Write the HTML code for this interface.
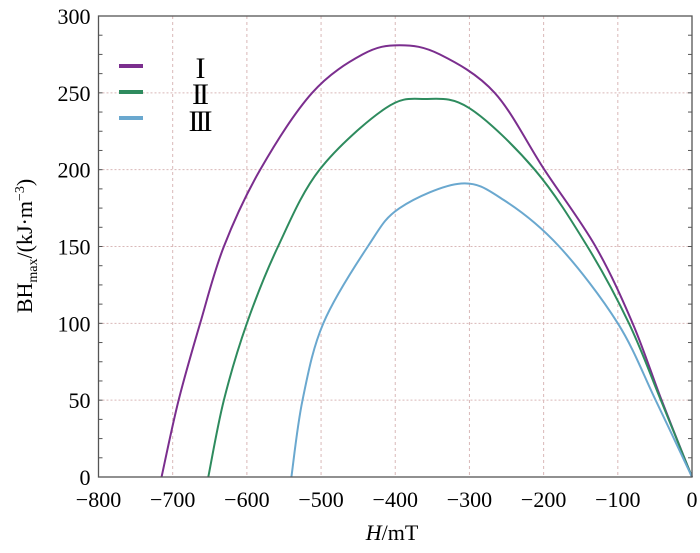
<!DOCTYPE html>
<html><head><meta charset="utf-8"><style>
html,body{margin:0;padding:0;background:#fff;}
svg{display:block;font-family:"Liberation Serif",serif;}
</style></head><body>
<svg id="chart" width="700" height="553" viewBox="0 0 700 553">
<g id="grid"></g>
<g id="curves"></g>
<g id="axes"></g>
<g id="legend">
  <line x1="119" y1="66" x2="143" y2="66" stroke="#7b2e8e" stroke-width="4"/>
  <line x1="119" y1="92" x2="143" y2="92" stroke="#2e8b5e" stroke-width="4"/>
  <line x1="119" y1="118" x2="143" y2="118" stroke="#6aa8cf" stroke-width="4"/>
  <text x="199" y="78" font-size="30" text-anchor="middle" letter-spacing="-3">I</text>
  <text x="199" y="104" font-size="30" text-anchor="middle" letter-spacing="-3">II</text>
  <text x="199" y="131" font-size="30" text-anchor="middle" letter-spacing="-3">III</text>
</g>
<text x="392" y="540" font-size="22" text-anchor="middle"><tspan font-style="italic">H</tspan>/mT</text>
<text transform="translate(32,246) rotate(-90)" font-size="22" text-anchor="middle">BH<tspan font-size="14" dy="5">max</tspan><tspan dy="-5">/(kJ·m</tspan><tspan font-size="14" dy="-8">−3</tspan><tspan dy="8">)</tspan></text>
</svg>
<script>
const xTicks = [-800,-700,-600,-500,-400,-300,-200,-100,0];
const yTicks = [0,50,100,150,200,250,300];
const h1 = [-715,-692,-663,-631,-582,-512,-444,-394,-340,-266,-199,-130,-80,-41,0];
const bh1 = [0,50,100,150,200,250,275,281,275,250,200,150,100,50,0];
const h2 = [-652,-631,-600,-558,-502,-413,-360,-300,-212,-141,-85,-42,0];
const bh2 = [0,50,100,150,200,240,246,240,200,150,100,50,0];
const h3 = [-540,-525,-497,-437,-394,-311,-253,-179,-100,-49,0];
const bh3 = [0,50,100,150,175,191,180,150,100,50,0];

const L=98.5,R=692,T=16,B=477;
const xs=v=>L+(v+800)/800*(R-L);
const ys=v=>B-v/300*(B-T);
const NS='http://www.w3.org/2000/svg';
function mk(tag,attrs,parent){const e=document.createElementNS(NS,tag);for(const k in attrs)e.setAttribute(k,attrs[k]);parent.appendChild(e);return e;}
const grid=document.getElementById('grid'),axes=document.getElementById('axes'),curves=document.getElementById('curves');
xTicks.forEach(t=>{
  if(t>-800&&t<0){const g=mk('line',{x1:xs(t),x2:xs(t),y1:T,y2:B,stroke:'#d9b8b8','stroke-width':1,'stroke-dasharray':'3,3'},grid);
  
  }
  const tx=mk('text',{x:xs(t),y:B+30,'font-size':22,'text-anchor':'middle'},axes);
  tx.textContent=(t<0?'−':'')+Math.abs(t);
  
  
});
yTicks.forEach(t=>{
  if(t>0&&t<300){const g=mk('line',{x1:L,x2:R,y1:ys(t),y2:ys(t),stroke:'#d9b8b8','stroke-width':1,'stroke-dasharray':'2,2'},grid);
  
  }
  const tx=mk('text',{x:L-8,y:ys(t)+8,'font-size':22,'text-anchor':'end'},axes);
  tx.textContent=t;
  
  
});
for(let v=0;v<=300;v+=12.5){
  const m1=mk('line',{x1:L,x2:L+4,y1:ys(v),y2:ys(v),stroke:'#555','stroke-width':1},axes);
  
  
  const m2=mk('line',{x1:R-4,x2:R,y1:ys(v),y2:ys(v),stroke:'#555','stroke-width':1},axes);
  
  
}
const fr=mk('rect',{x:L,y:T,width:R-L,height:B-T,fill:'none',stroke:'#555','stroke-width':1.3},axes);


function path(hs,bs){
  const p=hs.map((h,i)=>[xs(h),ys(bs[i])]);
  let d='M'+p[0][0]+','+p[0][1];
  for(let i=0;i<p.length-1;i++){
    const p0=p[Math.max(0,i-1)],p1=p[i],p2=p[i+1],p3=p[Math.min(p.length-1,i+2)];
    const c1=[p1[0]+(p2[0]-p0[0])/6,p1[1]+(p2[1]-p0[1])/6];
    const c2=[p2[0]-(p3[0]-p1[0])/6,p2[1]-(p3[1]-p1[1])/6];
    d+=' C'+c1+' '+c2+' '+p2;
  }
  return d;
}
[[h1,bh1,'#7b2e8e','curve-1'],[h2,bh2,'#2e8b5e','curve-2'],[h3,bh3,'#6aa8cf','curve-3']].forEach(s=>{
  const e=mk('path',{d:path(s[0],s[1]),fill:'none',stroke:s[2],'stroke-width':2},curves);
  
  
});
</script>
</body></html>
